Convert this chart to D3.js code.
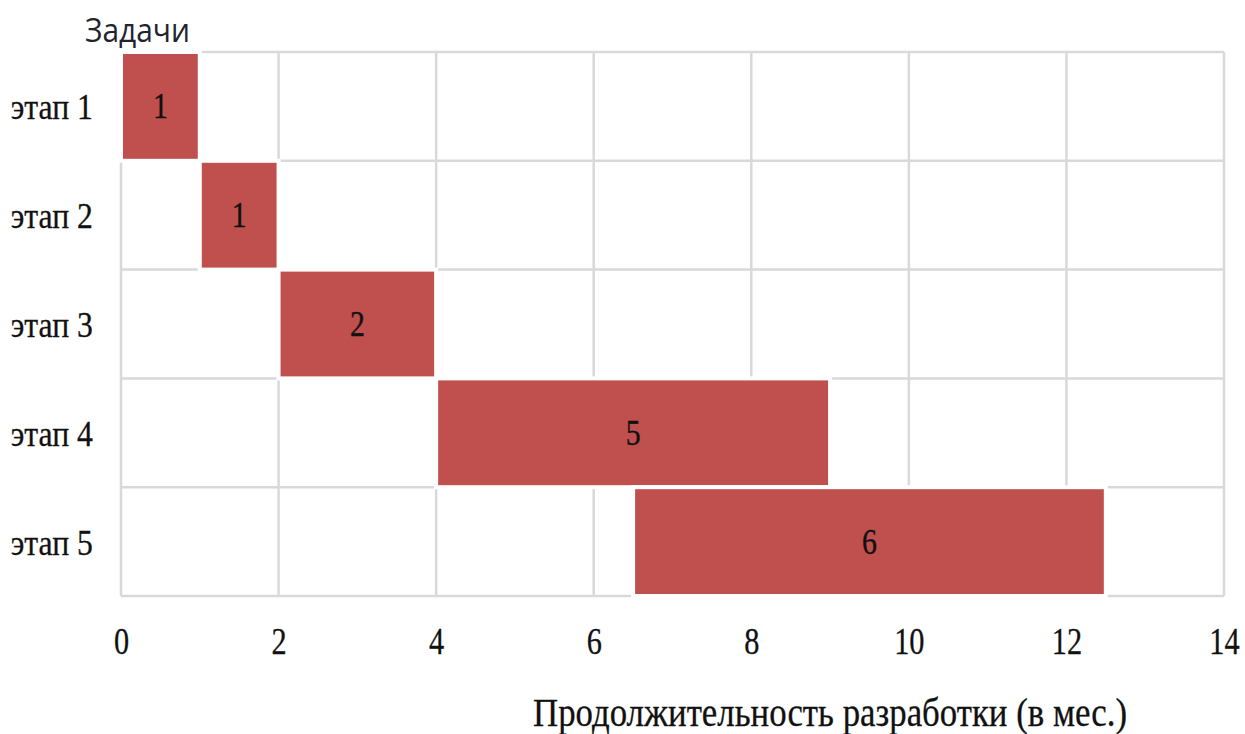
<!DOCTYPE html>
<html>
<head>
<meta charset="utf-8">
<script src="https://cdn.jsdelivr.net/npm/d3@7"></script>
<style>
  body { margin: 0; background: #fff; }
  svg { display: block; }
  text { fill: #111; }
</style>
</head>
<body>
<svg id="chart" width="1245" height="734"></svg>
<script>
// data
var tasks = ["этап 1", "этап 2", "этап 3", "этап 4", "этап 5"];
var starts = [0, 1, 2, 4, 6.5];
var durations = [1, 1, 2, 5, 6];
var xTicks = [0, 2, 4, 6, 8, 10, 12, 14];

var svg = d3.select("#chart"),
    WIDTH = 1245,
    HEIGHT = 734,
    MARGINS = { top: 52, right: 21, bottom: 138, left: 121 };

var serif = "'Liberation Serif', 'Times New Roman', serif";

var xScale = d3.scaleLinear()
  .domain([0, 14])
  .range([MARGINS.left, WIDTH - MARGINS.right]);
var yScale = d3.scaleBand()
  .domain(tasks)
  .range([MARGINS.top, HEIGHT - MARGINS.bottom]);

// grid
var grid = svg.append("g").attr("class", "grid")
  .attr("stroke", "#d9d9d9").attr("stroke-width", 2.5);
grid.selectAll("line.v").data(xTicks).enter().append("line")
  .attr("x1", d => xScale(d)).attr("x2", d => xScale(d))
  .attr("y1", MARGINS.top).attr("y2", HEIGHT - MARGINS.bottom);
var rowEdges = tasks.map(t => yScale(t)).concat([HEIGHT - MARGINS.bottom]);
grid.selectAll("line.h").data(rowEdges).enter().append("line")
  .attr("x1", MARGINS.left).attr("x2", WIDTH - MARGINS.right)
  .attr("y1", d => d).attr("y2", d => d);

// bars
var rows = tasks.map((t, i) => ({ task: t, start: starts[i], dur: durations[i] }));
svg.append("g").selectAll("rect").data(rows).enter().append("rect")
  .attr("x", d => xScale(d.start))
  .attr("y", d => yScale(d.task))
  .attr("width", d => xScale(d.start + d.dur) - xScale(d.start))
  .attr("height", yScale.bandwidth())
  .attr("fill", "#c0504d")
  .attr("stroke", "#fff")
  .attr("stroke-width", 4);

svg.append("g").selectAll("text").data(rows).enter().append("text")
  .attr("transform", d => "translate(" + xScale(d.start + d.dur / 2) + "," +
        (yScale(d.task) + yScale.bandwidth() / 2) + ") scale(0.85,1)")
  .attr("dy", "0.34em")
  .attr("text-anchor", "middle")
  .style("font-family", serif)
  .style("font-size", "35px")
  .style("stroke", "#111").style("stroke-width", 0.4)
  .text(d => d.dur);

// axes
var xAxis = d3.axisBottom(xScale).tickValues(xTicks).tickSize(0).tickPadding(32);
var gx = svg.append("g")
  .attr("transform", "translate(0," + (HEIGHT - MARGINS.bottom) + ")")
  .call(xAxis);
gx.select(".domain").remove();
gx.selectAll("text")
  .attr("transform", "scale(0.82,1)")
  .style("font-family", serif).style("font-size", "37px")
  .style("fill", "#111").style("stroke", "#111").style("stroke-width", 0.3);

var yAxis = d3.axisLeft(yScale).tickSize(0);
var gy = svg.append("g")
  .attr("transform", "translate(" + MARGINS.left + ",0)")
  .call(yAxis);
gy.select(".domain").remove();
gy.selectAll("text")
  .attr("x", -32)
  .attr("dy", "0.36em")
  .attr("transform", "scale(0.88,1)")
  .style("font-family", serif).style("font-size", "36px")
  .style("fill", "#111").style("stroke", "#111").style("stroke-width", 0.3);

// titles
svg.append("text")
  .attr("x", 85).attr("y", 42)
  .attr("textLength", 105).attr("lengthAdjust", "spacingAndGlyphs")
  .style("font-family", "'Open Sans', 'Liberation Sans', sans-serif")
  .style("font-size", "33px")
  .style("fill", "#1f2430")
  .text("Задачи");

svg.append("text")
  .attr("x", 533).attr("y", 726)
  .attr("textLength", 594).attr("lengthAdjust", "spacingAndGlyphs")
  .style("font-family", serif)
  .style("font-size", "41px")
  .style("stroke", "#111").style("stroke-width", 0.3)
  .text("Продолжительность разработки (в мес.)");
</script>
</body>
</html>
